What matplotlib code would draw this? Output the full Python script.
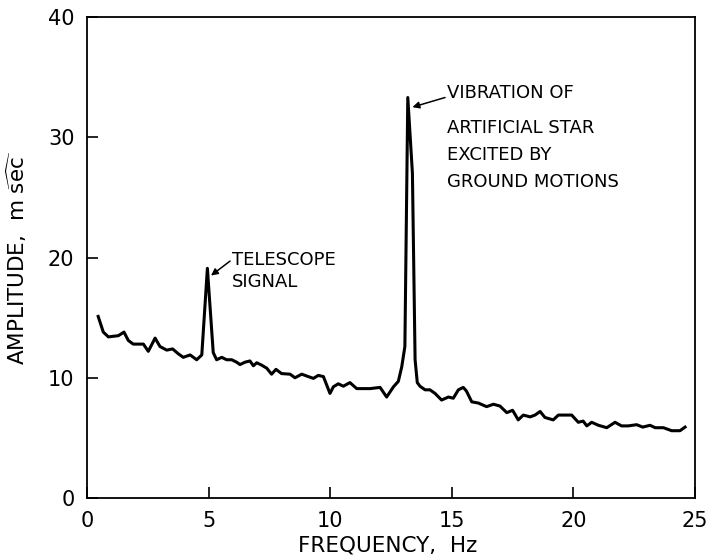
import matplotlib
matplotlib.use("Agg")
import matplotlib.pyplot as plt

# Amplitude spectrum
freq = [0.46, 0.67, 0.88, 1.29, 1.52, 1.70, 1.90, 2.32, 2.52, 2.80, 3.00, 3.28,
        3.52, 3.75, 3.96, 4.24, 4.51, 4.72, 4.95, 5.19, 5.33, 5.54,
        5.74, 5.95, 6.15, 6.29, 6.50, 6.70, 6.84, 6.98, 7.18, 7.39, 7.59, 7.77,
        8.00, 8.35, 8.55, 8.83, 9.03, 9.31, 9.51, 9.72, 9.99, 10.13, 10.33, 10.54,
        10.81, 11.09, 11.64, 12.05, 12.32, 12.60, 12.80, 12.94, 13.07, 13.19,
        13.38, 13.49, 13.58, 13.69, 13.90, 14.10, 14.31, 14.58, 14.86,
        15.06, 15.27, 15.47, 15.60, 15.82, 16.09, 16.43, 16.71, 16.98, 17.26,
        17.50, 17.73, 17.94, 18.22, 18.42, 18.63, 18.83, 19.17, 19.38, 19.93,
        20.20, 20.40, 20.55, 20.75, 21.03, 21.37, 21.71, 21.98, 22.25, 22.60,
        22.85, 23.15, 23.36, 23.70, 24.04, 24.38, 24.59]
amp = [15.1, 13.8, 13.4, 13.5, 13.8, 13.1, 12.8, 12.8, 12.2, 13.3, 12.6, 12.3,
       12.4, 12.0, 11.7, 11.9, 11.5, 11.9, 19.1, 12.1, 11.5, 11.7,
       11.5, 11.5, 11.3, 11.1, 11.3, 11.4, 11.0, 11.25, 11.05, 10.8, 10.3, 10.7,
       10.35, 10.3, 10.0, 10.3, 10.15, 9.95, 10.2, 10.1, 8.7, 9.25, 9.5, 9.3,
       9.6, 9.1, 9.1, 9.2, 8.4, 9.25, 9.7, 10.9, 12.6, 33.3,
       27.0, 11.5, 9.6, 9.3, 9.0, 9.0, 8.7, 8.15, 8.4,
       8.3, 9.0, 9.2, 8.9, 8.0, 7.9, 7.6, 7.8, 7.65, 7.1,
       7.3, 6.5, 6.9, 6.75, 6.9, 7.2, 6.7, 6.5, 6.9, 6.9,
       6.3, 6.4, 6.0, 6.3, 6.05, 5.85, 6.3, 6.0, 6.0, 6.1,
       5.9, 6.05, 5.85, 5.85, 5.6, 5.6, 5.9]

x_ticks = [0, 5, 10, 15, 20, 25]
y_ticks = [0, 10, 20, 30, 40]

tele_lines = ["TELESCOPE", "SIGNAL"]
vib_lines = ["VIBRATION OF", "ARTIFICIAL STAR", "EXCITED BY", "GROUND MOTIONS"]

fig = plt.figure(figsize=(7.09, 5.59), dpi=100)
ax = fig.add_axes([0.1227, 0.109, 0.8576, 0.8607])

ax.plot(freq, amp, color="black", linewidth=2.2, solid_joinstyle="round")

ax.set_xlim(0, 25)
ax.set_ylim(0, 40)
ax.set_xticks(x_ticks)
ax.set_yticks(y_ticks)
ax.tick_params(direction="in", length=8, width=1.2, labelsize=15, pad=9)
for s in ax.spines.values():
    s.set_linewidth(1.3)

ax.set_xlabel("FREQUENCY,  Hz", fontsize=15.5)
ax.xaxis.set_label_coords(0.494, -0.078)
ax.set_ylabel(r"AMPLITUDE,  m $\widehat{\mathsf{sec}}$", fontsize=15.5)
ax.yaxis.set_label_coords(-0.095, 0.5)

arrow = dict(arrowstyle="-|>", color="black", lw=1.1,
             shrinkA=0, shrinkB=0, mutation_scale=10)

# telescope signal label
ax.annotate("", xy=(5.10, 18.5), xytext=(5.88, 19.7), arrowprops=arrow)
for txt, yy in zip(tele_lines, [19.8, 18.0]):
    ax.text(5.96, yy, txt, fontsize=13, va="center", ha="left")

# artificial star label
ax.annotate("", xy=(13.38, 32.5), xytext=(14.72, 33.3), arrowprops=arrow)
for txt, yy in zip(vib_lines, [33.67, 30.76, 28.51, 26.27]):
    ax.text(14.80, yy, txt, fontsize=13, va="center", ha="left")

fig.savefig("out.png", dpi=100)
